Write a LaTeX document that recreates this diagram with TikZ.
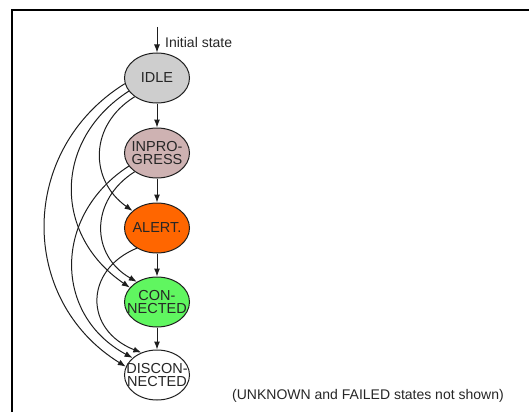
\documentclass[tikz,border=0pt]{standalone}
\usepackage{fontspec}
\setmainfont{Liberation Sans}
\usetikzlibrary{arrows.meta,shapes.geometric}

\definecolor{idlegray}{RGB}{206,206,206}
\definecolor{inprpink}{RGB}{206,178,178}
\definecolor{alertorange}{RGB}{255,102,0}
\definecolor{connectgreen}{RGB}{96,246,96}
\definecolor{edgegray}{RGB}{30,30,30}

\tikzset{
  statebox/.style={ellipse, draw=edgegray, line width=1pt,
    minimum width=65pt, minimum height=50pt, inner sep=0pt},
  statetext/.style={align=center, font=\fontsize{14.5}{13.5}\selectfont,
    text=black!85},
  trans/.style={draw=edgegray, line width=1pt,
    -{Latex[length=8pt,width=6pt]}},
  note/.style={font=\fontsize{14}{15}\selectfont, inner sep=0pt, text=black!85},
}

\begin{document}
\begin{tikzpicture}[x=1pt, y=-1pt]
  \useasboundingbox (0,0) rectangle (529,412);

  % page frame (open to the right and bottom)
  \draw[line width=1.6pt] (12,412) -- (12,10) -- (529,10);

  % states
  \node[statebox, fill=idlegray] (idle) at (157,78)
    {}; \node[statetext] (idlet) at (idle.center) {IDLE};
  \node[statebox, fill=inprpink] (inpr) at (157,153)
    {}; \node[statetext] (inprt) at (inpr.center) {INPRO-\\GRESS};
  \node[statebox, fill=alertorange] (alert) at (157,228)
    {}; \node[statetext] (alertt) at (alert.center) {ALERT.};
  \node[statebox, fill=connectgreen] (conn) at (157,302)
    {}; \node[statetext] (connt) at (conn.center) {CON-\\NECTED};
  \node[statebox, fill=white] (disc) at (157,375)
    {}; \node[statetext] (disct) at (disc.center) {DISCON-\\NECTED};

  % initial transition
  \coordinate (init) at (157,27);
  \draw[trans] (init) -- (idle);
  \node[note, anchor=west] (initlbl) at (165,42) {Initial state};

  % forward transitions
  \draw[trans] (idle) -- (inpr);
  \draw[trans] (inpr) -- (alert);
  \draw[trans] (alert) -- (conn);
  \draw[trans] (conn) -- (disc);

  % skipping transitions on the left
  \draw[trans] (idle.220) .. controls (89,125) and (89,180) .. (alert.145);
  \draw[trans] (idle.205) .. controls (53,140) and (53,235) .. (conn.152);
  \draw[trans] (idle.190) .. controls (18,150) and (18,300) .. (disc.165);
  \draw[trans] (inpr.220) .. controls (90,200) and (90,255) .. (conn.135);
  \draw[trans] (inpr.205) .. controls (53,215) and (53,315) .. (disc.145);
  \draw[trans] (alert.225) .. controls (84,270) and (84,330) .. (disc.125);

  % footnote
  \node[note, anchor=west] (foot) at (232,396)
    {(UNKNOWN and FAILED states not shown)};
\end{tikzpicture}
\end{document}
